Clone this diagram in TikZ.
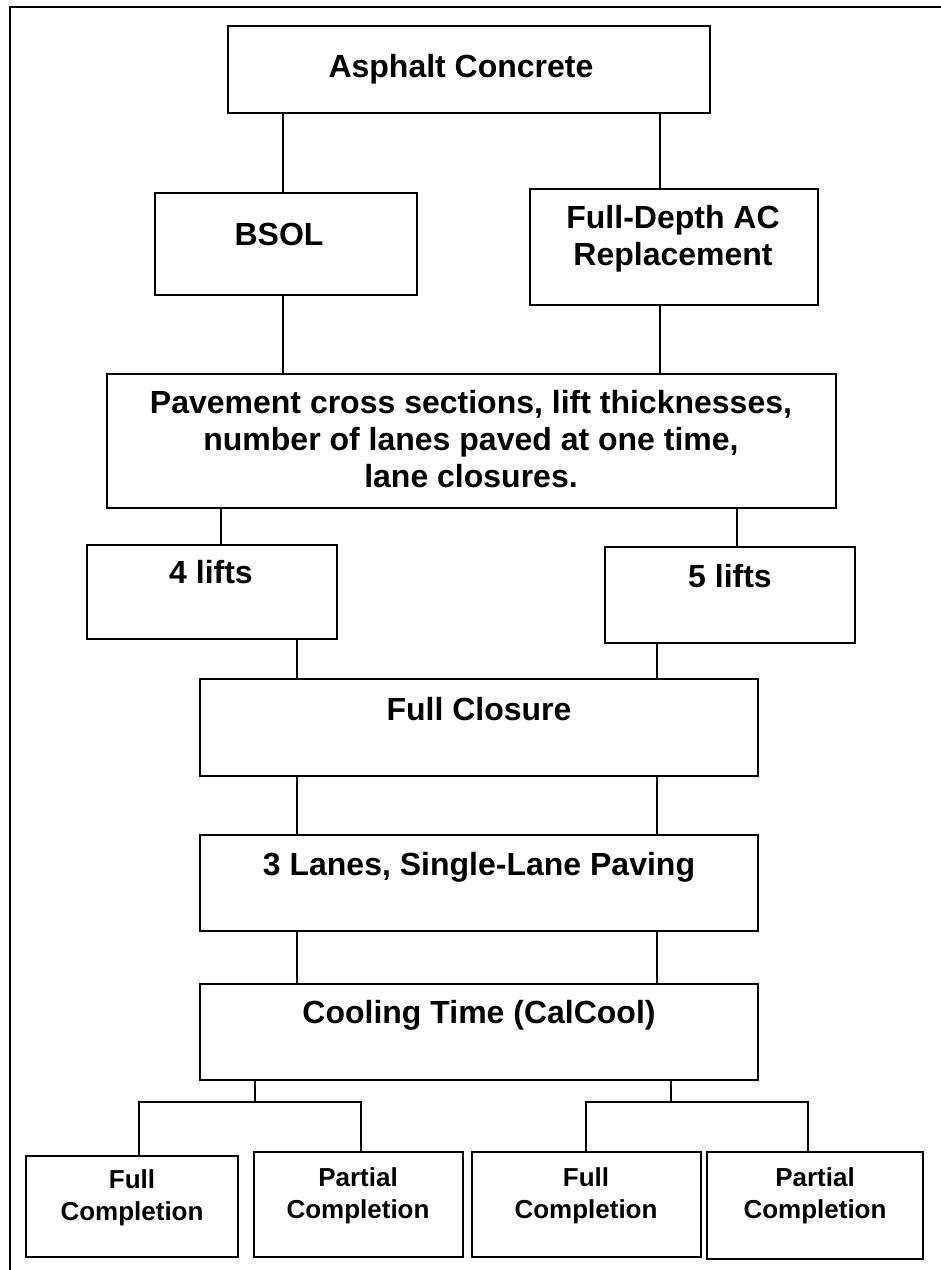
\documentclass[tikz,border=0pt]{standalone}
\usepackage{fontspec}
\setmainfont{Liberation Sans}
\begin{document}
\begin{tikzpicture}[x=1pt,y=-1pt,
  box/.style={draw, line width=2pt, outer sep=0pt, inner sep=0pt, anchor=north west},
  link/.style={line width=1.2pt},
  lab/.style={font=\bfseries\fontsize{32}{37}\selectfont, anchor=base, inner sep=0pt, align=center},
  smalllab/.style={font=\bfseries\fontsize{26}{32}\selectfont, anchor=base, inner sep=0pt, align=center}]
\useasboundingbox (0,0) rectangle (941,1270);
\fill[white] (0,0) rectangle (941,1270);
% frame (top and left sides visible)
\draw[line width=2pt] (10,1271) -- (10,7) -- (942,7);
% boxes
\node[box, minimum width=482, minimum height=87] (ac) at (228,26) {};
\node[box, minimum width=262, minimum height=102] (bsol) at (155,193) {};
\node[box, minimum width=288, minimum height=116] (fdac) at (530,189) {};
\node[box, minimum width=729, minimum height=134] (pav) at (107,374) {};
\node[box, minimum width=250, minimum height=94] (l4) at (87,545) {};
\node[box, minimum width=250, minimum height=96] (l5) at (605,547) {};
\node[box, minimum width=558, minimum height=97] (fc) at (200,679) {};
\node[box, minimum width=558, minimum height=96] (lanes) at (200,835) {};
\node[box, minimum width=558, minimum height=96] (cool) at (200,984) {};
\node[box, minimum width=212, minimum height=101] (fc1) at (26,1156) {};
\node[box, minimum width=209, minimum height=105] (pc1) at (254,1152) {};
\node[box, minimum width=229, minimum height=105] (fc2) at (472,1152) {};
\node[box, minimum width=216, minimum height=107] (pc2) at (707,1152) {};
% texts (base anchor = baseline of the last line)
\node[lab] (acT) at (461,77) {Asphalt Concrete};
\node[lab] (bsolT) at (279,245) {BSOL};
\node[lab] (fdacT) at (673,265) {Full-Depth AC\\Replacement};
\node[lab] (pavT) at (471,487) {Pavement cross sections, lift thicknesses,\\number of lanes paved at one time,\\lane closures.};
\node[lab] (l4T) at (211,583) {4 lifts};
\node[lab] (l5T) at (730,587) {5 lifts};
\node[lab] (fcT) at (479,720) {Full Closure};
\node[lab] (lanesT) at (479,875) {3 Lanes, Single-Lane Paving};
\node[lab] (coolT) at (479,1023) {Cooling Time (CalCool)};
\node[smalllab] (fc1T) at (132,1220) {Full\\Completion};
\node[smalllab] (pc1T) at (358,1218) {Partial\\Completion};
\node[smalllab] (fc2T) at (586,1218) {Full\\Completion};
\node[smalllab] (pc2T) at (815,1218) {Partial\\Completion};
% x positions of connectors
\coordinate (xA) at (283,0);
\coordinate (xB) at (660,0);
\coordinate (xC) at (221,0);
\coordinate (xD) at (737,0);
\coordinate (xE) at (297,0);
\coordinate (xF) at (657,0);
\coordinate (xG) at (139,0);
\coordinate (xH) at (361,0);
\coordinate (xI) at (586,0);
\coordinate (xJ) at (808,0);
\coordinate (jL) at (255,1102);
\coordinate (jR) at (671,1102);
% connectors
\draw[link] (ac.south -| xA) -- (bsol.north -| xA);
\draw[link] (ac.south -| xB) -- (fdac.north -| xB);
\draw[link] (bsol.south -| xA) -- (pav.north -| xA);
\draw[link] (fdac.south -| xB) -- (pav.north -| xB);
\draw[link] (pav.south -| xC) -- (l4.north -| xC);
\draw[link] (pav.south -| xD) -- (l5.north -| xD);
\draw[link] (l4.south -| xE) -- (fc.north -| xE);
\draw[link] (l5.south -| xF) -- (fc.north -| xF);
\draw[link] (fc.south -| xE) -- (lanes.north -| xE);
\draw[link] (fc.south -| xF) -- (lanes.north -| xF);
\draw[link] (lanes.south -| xE) -- (cool.north -| xE);
\draw[link] (lanes.south -| xF) -- (cool.north -| xF);
\draw[link] (cool.south -| jL) -- (jL);
\draw[link] (cool.south -| jR) -- (jR);
\draw[link, line width=1.6pt] (fc1.north -| xG) |- (jL) -| (pc1.north -| xH);
\draw[link, line width=1.6pt] (fc2.north -| xI) |- (jR) -| (pc2.north -| xJ);
\end{tikzpicture}
\end{document}
